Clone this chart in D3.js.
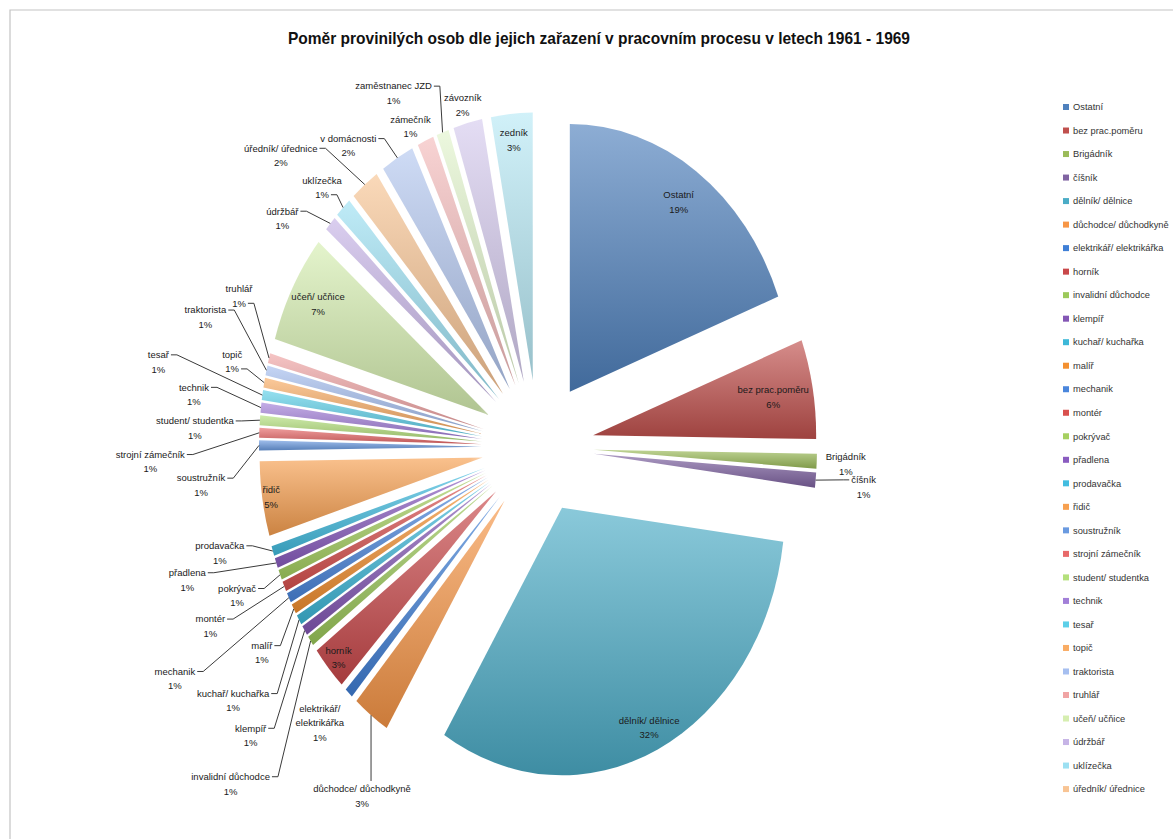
<!DOCTYPE html>
<html>
<head>
<meta charset="utf-8">
<script src="https://cdn.jsdelivr.net/npm/d3@7"></script>
<style>
  body { margin: 0; background: #fff; }
  svg { display: block; }
</style>
</head>
<body>
<div id="graph"></div>
<script>
// ---------------------------------------------------------------------------
// Data (counts; labels show the rounded share)
// ---------------------------------------------------------------------------
const categories = [
  "Ostatní", "bez prac.poměru", "Brigádník", "číšník", "dělník/ dělnice",
  "důchodce/ důchodkyně", "elektrikář/ elektrikářka", "horník",
  "invalidní důchodce", "klempíř", "kuchař/ kuchařka", "malíř", "mechanik",
  "montér", "pokrývač", "přadlena", "prodavačka", "řidič", "soustružník",
  "strojní zámečník", "student/ studentka", "technik", "tesař", "topič",
  "traktorista", "truhlář", "učeň/ učňice", "údržbář", "uklízečka",
  "úředník/ úřednice", "v domácnosti", "zámečník", "zaměstnanec JZD",
  "závozník", "zedník",
];
const counts = [
  64, 20, 3, 3, 106,
  9, 2, 9,
  2, 2, 2, 2, 2,
  2, 2, 2, 2, 15, 2,
  2, 2, 2, 2, 2,
  2, 2, 22, 3, 4,
  7, 8, 4, 3,
  7, 10,
];
const title =
  "Poměr provinilých osob dle jejich zařazení v pracovním procesu v letech 1961 - 1969";

// Excel theme colours, cycling and getting lighter
const palette = [
  "#4f81bd", "#c0504d", "#9bbb59", "#8064a2", "#4bacc6", "#f79646",
  "#3f7fd6", "#c9484a", "#9cc95a", "#8457b5", "#3db8d8", "#f39030",
  "#4a86dc", "#d9504e", "#a6d060", "#8a5cc0", "#42bde0", "#f7a050",
  "#6a9ae0", "#e86a6a", "#b4e07c", "#a27fd8", "#5ccfe8", "#f9ac64",
  "#a6bff0", "#f0a4a4", "#d6eeb0", "#c6b4e6", "#9ce0f2", "#f8c494",
  "#b4c8f0", "#f4bcbc", "#e2f4cc", "#d6cbee", "#b8eaf6",
];

// Label placement: inside labels sit at k*radius along the bisector,
// outside labels are nudged (dx, dy) from the slice's outer point.
// attach: where the leader line leaves the label (n=name end, p=% end,
// t=top, l=left); no attach = no leader line.
const labelLayout = {
  "Ostatní": { k: 0.86 },
  "bez prac.poměru": { k: 0.82 },
  "Brigádník": { dx: 29, dy: 3 },
  "číšník": { dx: 48, dy: 7, attach: "l" },
  "dělník/ dělnice": { k: 0.91 },
  "důchodce/ důchodkyně": { dx: -9, dy: 81, attach: "t" },
  "elektrikář/ elektrikářka": { dx: -29, dy: 30, wrap: true },
  "horník": { k: 0.94 },
  "invalidní důchodce": { dx: -80, dy: 143, attach: "n" },
  "klempíř": { dx: -54, dy: 105, attach: "n" },
  "kuchař/ kuchařka": { dx: -66, dy: 81, attach: "n" },
  "malíř": { dx: -32, dy: 44, attach: "n" },
  "mechanik": { dx: -114, dy: 81, attach: "n" },
  "montér": { dx: -74, dy: 40, attach: "n" },
  "pokrývač": { dx: -43, dy: 21, attach: "n" },
  "přadlena": { dx: -89, dy: 17, attach: "n" },
  "prodavačka": { dx: -53, dy: 2, attach: "n" },
  "řidič": { k: 0.96 },
  "soustružník": { dx: -58, dy: 40, attach: "n" },
  "strojní zámečník": { dx: -109, dy: 29, attach: "n" },
  "student/ studentka": { dx: -65, dy: 8, attach: "n" },
  "technik": { dx: -67, dy: -13, attach: "n" },
  "tesař": { dx: -104, dy: -33, attach: "n" },
  "topič": { dx: -32, dy: -21, attach: "p" },
  "traktorista": { dx: -61, dy: -53, attach: "n" },
  "truhlář": { dx: -30, dy: -62, attach: "p" },
  "učeň/ učňice": { k: 0.87 },
  "údržbář": { dx: -48, dy: -5, attach: "n" },
  "uklízečka": { dx: -21, dy: -20, attach: "p" },
  "úředník/ úřednice": { dx: -84, dy: -29, attach: "n" },
  "v domácnosti": { dx: -49, dy: -12, attach: "n" },
  "zámečník": { dx: -15, dy: -14 },
  "zaměstnanec JZD": { dx: -49, dy: -39, attach: "n" },
  "závozník": { dx: -5, dy: -18 },
  "zedník": { k: 0.9 },
};

// ---------------------------------------------------------------------------
// Geometry
// ---------------------------------------------------------------------------
const width = 1173;
const height = 839;
const cx = 538;
const cy = 447;
const radius = 223;
const explode = 56;
const squash = 1.2; // the pie is drawn taller than wide
const lineHeight = 14.5;
const font = "'Liberation Sans', Arial, sans-serif";

const data = categories.map((name, i) => ({ name, count: counts[i], color: palette[i] }));
const total = d3.sum(counts);

const svg = d3
  .select("#graph")
  .append("svg")
  .attr("width", width)
  .attr("height", height)
  .style("font-family", font);

svg.append("rect").attr("width", width).attr("height", height).attr("fill", "#fff");

// chart frame, only the top and left edges are in view
svg
  .append("path")
  .attr("d", `M10,${height} L10,10 L${width},10`)
  .attr("fill", "none")
  .attr("stroke", "#c4c4c4")
  .attr("stroke-width", 1.2);

svg
  .append("text")
  .attr("x", 599)
  .attr("y", 38)
  .attr("dy", "0.35em")
  .attr("text-anchor", "middle")
  .attr("textLength", 622)
  .attr("lengthAdjust", "spacingAndGlyphs")
  .style("font-size", "17px")
  .style("font-weight", "bold")
  .style("fill", "#111")
  .text(title);

// one top-to-bottom gradient per slice
const defs = svg.append("defs");
data.forEach((d, i) => {
  const g = defs
    .append("linearGradient")
    .attr("id", `grad${i}`)
    .attr("x1", 0)
    .attr("y1", 0)
    .attr("x2", 0)
    .attr("y2", 1);
  g.append("stop").attr("offset", "0%").attr("stop-color", d3.interpolateRgb(d.color, "#fff")(0.35));
  g.append("stop").attr("offset", "100%").attr("stop-color", d3.rgb(d.color).darker(0.55));
});
const fog = defs.append("radialGradient").attr("id", "fog");
fog.append("stop").attr("offset", "0%").attr("stop-color", "#fff").attr("stop-opacity", 1);
fog.append("stop").attr("offset", "45%").attr("stop-color", "#fff").attr("stop-opacity", 0.9);
fog.append("stop").attr("offset", "100%").attr("stop-color", "#fff").attr("stop-opacity", 0);

const pie = d3.pie().sort(null).value(d => d.count);
const arcs = pie(data);
const arcGen = d3.arc().innerRadius(0).outerRadius(radius);
const mid = a => (a.startAngle + a.endAngle) / 2;

// screen position of a point at `dist` along angle `ang` from the centre
const toScreen = (ang, dist) => [cx + dist * Math.sin(ang), cy - squash * dist * Math.cos(ang)];

const pieG = svg.append("g").attr("transform", `translate(${cx},${cy}) scale(1,${squash})`);
pieG
  .selectAll("path")
  .data(arcs)
  .join("path")
  .attr("transform", a => `translate(${explode * Math.sin(mid(a))},${-explode * Math.cos(mid(a))})`)
  .attr("d", arcGen)
  .attr("fill", (a, i) => `url(#grad${i})`);

svg
  .append("circle")
  .attr("cx", cx - 8)
  .attr("cy", cy - 4)
  .attr("r", 62)
  .attr("fill", "url(#fog)");

// ---------------------------------------------------------------------------
// Data labels
// ---------------------------------------------------------------------------
const labelG = svg.append("g").style("font-size", "9.5px").style("fill", "#1a1a1a");
const leaderG = svg.append("g").attr("fill", "none").attr("stroke", "#3a3a3a").attr("stroke-width", 1);

arcs.forEach(a => {
  const L = labelLayout[a.data.name];
  const pct = `${Math.round((a.data.count / total) * 100)}%`;
  const nameLines = L.wrap ? a.data.name.replace("/ ", "/\n").split("\n") : [a.data.name];
  const lines = [...nameLines, pct];

  let x, y;
  const P = toScreen(mid(a), explode + radius);
  if (L.k) {
    [x, y] = toScreen(mid(a), explode + L.k * radius);
  } else {
    x = P[0] + L.dx;
    y = P[1] + L.dy;
  }

  const texts = lines.map((line, j) =>
    labelG
      .append("text")
      .attr("x", x)
      .attr("y", y + (j - (lines.length - 1) / 2) * lineHeight)
      .attr("dy", "0.35em")
      .attr("text-anchor", "middle")
      .text(line)
  );

  if (!L.attach) return;
  const nameY = y - ((lines.length - 1) / 2) * lineHeight;
  const pctY = y + ((lines.length - 1) / 2) * lineHeight;
  const nameW = texts[0].node().getComputedTextLength();
  const pctW = texts[texts.length - 1].node().getComputedTextLength();
  let pts;
  if (L.attach === "t") {
    pts = [[P[0], nameY - 8], P];
  } else if (L.attach === "l") {
    const sx = x - nameW / 2 - 2;
    pts = [[sx, nameY], [sx - 6, nameY], P];
  } else {
    const w = L.attach === "p" ? pctW : nameW;
    const ly = L.attach === "p" ? pctY : nameY;
    const sx = x + w / 2 + 2;
    pts = [[sx, ly], [sx + 6, ly], P];
  }
  leaderG.append("path").attr("d", d3.line()(pts));
});

// ---------------------------------------------------------------------------
// Legend (runs off the bottom of the chart area, as in the original)
// ---------------------------------------------------------------------------
const legendTop = 107;
const legendStep = 23.52;
const legendG = svg.append("g").style("font-size", "9.3px").style("fill", "#333");
data.forEach((d, i) => {
  const ly = legendTop + i * legendStep;
  if (ly > 800) return;
  legendG
    .append("rect")
    .attr("x", 1063)
    .attr("y", ly - 3)
    .attr("width", 6)
    .attr("height", 6)
    .attr("fill", d.color);
  legendG
    .append("text")
    .attr("x", 1073)
    .attr("y", ly)
    .attr("dy", "0.35em")
    .text(d.name);
});
</script>
</body>
</html>
